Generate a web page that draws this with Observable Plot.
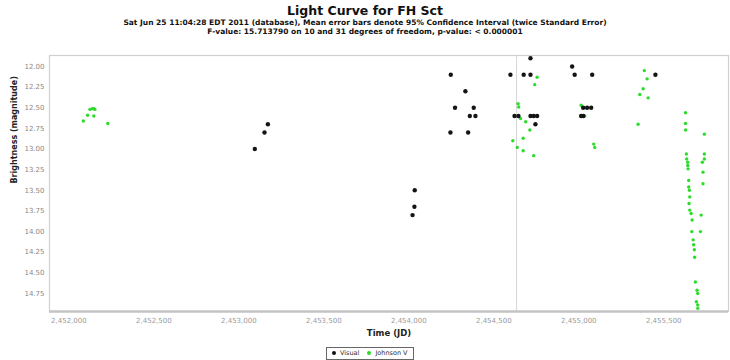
<!DOCTYPE html>
<html><head><meta charset="utf-8">
<script src="https://cdn.jsdelivr.net/npm/d3@7"></script>
<script src="https://cdn.jsdelivr.net/npm/@observablehq/plot@0.6"></script>
<style>
body{margin:0;background:#fff;font-family:"DejaVu Sans",sans-serif}
#wrap{position:relative;width:730px;height:360px;overflow:hidden;background:#fff}
#chart{position:absolute;left:0;top:0}
.t{position:absolute;left:0;width:730px;text-align:center;white-space:nowrap;color:#111;font-weight:bold}
#title{top:3px;font-size:12.5px}
#sub1{top:18px;font-size:7.5px}
#sub2{top:27px;font-size:7.5px}
#legend{position:absolute;left:326px;top:347px;height:11px;padding:0 5px;border:1px solid #666;font-size:6.5px;line-height:11px;color:#333;white-space:nowrap}
.dk{display:inline-block;width:4px;height:4px;border-radius:50%;background:#111;vertical-align:middle;margin-right:4px}
.gr{display:inline-block;width:4px;height:4px;border-radius:50%;background:#2bdc2b;vertical-align:middle;margin:0 4px 0 8px}
</style></head><body>
<div id="wrap">
<div id="chart"></div>
<div class="t" id="title">Light Curve for FH Sct</div>
<div class="t" id="sub1">Sat Jun 25 11:04:28 EDT 2011 (database), Mean error bars denote 95% Confidence Interval (twice Standard Error)</div>
<div class="t" id="sub2">F-value: 15.713790 on 10 and 31 degrees of freedom, p-value: &lt; 0.000001</div>
<div id="legend"><span class="dk"></span>Visual<span class="gr"></span>Johnson V</div>
</div>
<script>
// Visual observations (black)
const visualJD = [2453171,2453151,2453094,2454035,2454033,2454022,2454247,2454333,2454272,2454382,2454359,2454392,2454245,2454349,
  2454598,2454676,2454716,2454716,2454622,2454645,2454716,2454735,2454755,2454745,2454961,2454976,2455079,2455026,2455049,2455073,2455014,2455027,2455451];
const visualMag = [12.7,12.8,13.0,13.5,13.7,13.8,12.1,12.3,12.5,12.5,12.6,12.6,12.8,12.8,
  12.1,12.1,12.1,11.9,12.6,12.6,12.6,12.6,12.6,12.7,12.0,12.1,12.1,12.5,12.5,12.5,12.6,12.6,12.1];
// Johnson V observations (green)
const johnsonJD = [2452124,2452138,2452147,2452153,2452110,2452147,2452085,2452229,
  2454755,2454741,2454643,2454647,2454657,2454688,2454712,2454673,2454612,2454638,2454673,2454735,
  2455014,2455035,2455088,2455094,
  2455386,2455402,2455379,2455359,2455408,2455349,
  2455628,2455628,2455629,2455633,2455635,2455641,2455641,2455643,2455647,2455647,2455651,2455653,2455649,2455653,2455661,2455667,2455665,2455673,2455676,2455680,2455682,2455686,2455696,2455700,2455692,2455700,2455700,
  2455739,2455739,2455739,2455727,2455731,2455731,2455720,2455716];
const johnsonMag = [12.52,12.51,12.51,12.52,12.59,12.60,12.66,12.69,
  12.13,12.22,12.45,12.49,12.63,12.67,12.77,12.87,12.90,12.98,13.02,13.08,
  12.47,12.60,12.94,12.98,
  12.05,12.15,12.27,12.34,12.38,12.70,
  12.56,12.69,12.77,13.06,13.12,13.16,13.20,13.24,13.38,13.46,13.50,13.58,13.66,13.74,13.78,13.86,14.00,14.10,14.16,14.22,14.31,14.61,14.71,14.75,14.85,14.89,14.93,
  12.82,13.06,13.12,13.16,13.28,13.42,13.80,14.00];
const xTicks = [2452000,2452500,2453000,2453500,2454000,2454500,2455000,2455500];
const yTicks = [12.00,12.25,12.50,12.75,13.00,13.25,13.50,13.75,14.00,14.25,14.50,14.75];
const markerJD = [2454634];
const xDomain = [2451886, 2455881];
const yDomain = [11.867, 14.968];

const chart = Plot.plot({
  width: 730, height: 360,
  marginLeft: 49, marginRight: 2, marginTop: 55, marginBottom: 49,
  style: {fontFamily: "DejaVu Sans, sans-serif", background: "#fff"},
  x: {domain: xDomain},
  y: {domain: yDomain, reverse: true},
  marks: [
    Plot.ruleX(markerJD, {stroke: "#d8d8d8", strokeWidth: 1}),
    Plot.frame({stroke: "#d0d0d0", strokeWidth: 1.2}),
    Plot.ruleY([yDomain[1]], {stroke: "#c4c4c4", strokeWidth: 2.5}),
    Plot.axisX({ticks: xTicks, tickFormat: d3.format(","), tickSize: 0, tickPadding: 7, fontSize: 7, fill: "#9a9a9a", label: null}),
    Plot.axisY({ticks: yTicks, tickFormat: d3.format(".2f"), tickSize: 0, tickPadding: 5, fontSize: 7, fill: "#888", label: null}),
    Plot.text(["Time (JD)"], {frameAnchor: "bottom", dy: 24, fontSize: 8.5, fontWeight: "bold", fill: "#222"}),
    Plot.text(["Brightness (magnitude)"], {frameAnchor: "left", dx: -35, rotate: -90, fontSize: 8, fontWeight: "bold", fill: "#222"}),
    Plot.dot(johnsonJD, {x: d => d, y: (d, i) => johnsonMag[i], r: 1.7, fill: "#2bdc2b", stroke: "none"}),
    Plot.dot(visualJD, {x: d => d, y: (d, i) => visualMag[i], r: 2.2, fill: "#151515", stroke: "none"})
  ]
});
document.getElementById("chart").appendChild(chart);
</script>
</body></html>
